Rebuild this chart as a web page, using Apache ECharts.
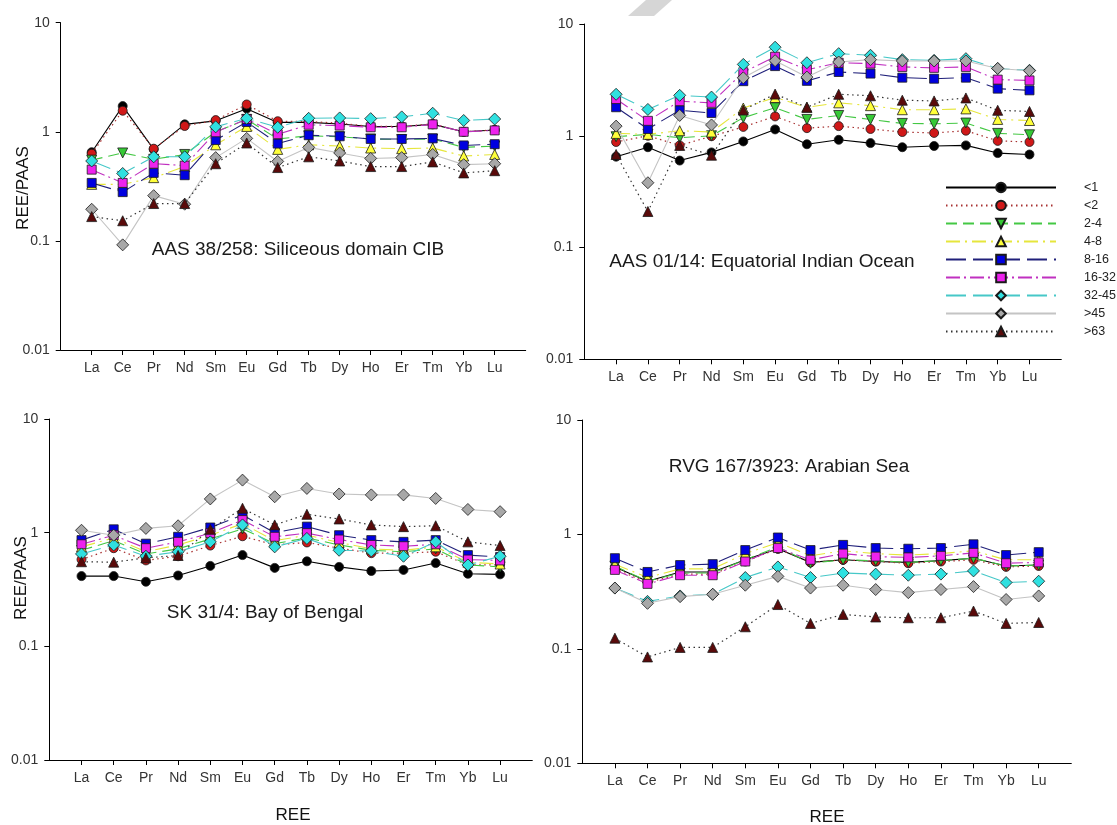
<!DOCTYPE html>
<html>
<head>
<meta charset="utf-8">
<script src="https://cdn.jsdelivr.net/npm/echarts@6/dist/echarts.min.js"></script>
<style>
  html, body { margin: 0; padding: 0; background: #fff; }
  #chart { width: 1117px; height: 825px; }
</style>
</head>
<body>
<div id="chart"></div>
<script>
// Rare earth elements along the x axis
const elements = ['La', 'Ce', 'Pr', 'Nd', 'Sm', 'Eu', 'Gd', 'Tb', 'Dy', 'Ho', 'Er', 'Tm', 'Yb', 'Lu'];
// Grain-size classes (legend)
const sizeClasses = ['<1', '<2', '2-4', '4-8', '8-16', '16-32', '32-45', '>45', '>63'];
// Log-axis decades
const yTickValues = [0.01, 0.1, 1, 10];
const yTickLabels = ['0.01', '0.1', '1', '10'];

// AAS 38/258: Siliceous domain CIB
const cib_lt1   = [0.65, 1.72, 0.69, 1.17, 1.26, 1.63, 1.22, 1.22, 1.18, 1.12, 1.12, 1.17, 1.00, 1.04];
const cib_lt2   = [0.63, 1.56, 0.70, 1.13, 1.28, 1.78, 1.25, 1.24, 1.20, 1.12, 1.12, 1.18, 1.00, 1.04];
const cib_2_4   = [0.55, 0.64, 0.56, 0.62, 1.00, 1.30, 0.86, 0.92, 0.90, 0.86, 0.85, 0.86, 0.72, 0.74];
const cib_4_8   = [0.33, 0.33, 0.38, 0.48, 0.76, 1.12, 0.69, 0.76, 0.74, 0.71, 0.70, 0.71, 0.60, 0.62];
const cib_8_16  = [0.34, 0.28, 0.42, 0.40, 0.84, 1.23, 0.78, 0.93, 0.91, 0.86, 0.86, 0.87, 0.75, 0.77];
const cib_16_32 = [0.45, 0.34, 0.51, 0.49, 0.99, 1.31, 0.95, 1.16, 1.14, 1.10, 1.10, 1.17, 1.00, 1.03];
const cib_32_45 = [0.54, 0.415, 0.59, 0.59, 1.11, 1.33, 1.10, 1.33, 1.34, 1.32, 1.37, 1.48, 1.27, 1.31];
const cib_gt45  = [0.195, 0.092, 0.26, 0.217, 0.58, 0.87, 0.535, 0.72, 0.64, 0.57, 0.58, 0.62, 0.50, 0.51];
const cib_gt63  = [0.167, 0.153, 0.22, 0.22, 0.51, 0.79, 0.47, 0.59, 0.54, 0.48, 0.48, 0.53, 0.42, 0.44];

// AAS 01/14: Equatorial Indian Ocean
const eio_lt1   = [0.65, 0.79, 0.60, 0.71, 0.89, 1.14, 0.84, 0.92, 0.86, 0.79, 0.81, 0.82, 0.70, 0.68];
const eio_lt2   = [0.88, 1.00, 0.82, 0.99, 1.20, 1.49, 1.17, 1.22, 1.15, 1.08, 1.06, 1.11, 0.90, 0.88];
const eio_2_4   = [0.98, 1.03, 0.96, 1.00, 1.45, 1.78, 1.40, 1.52, 1.40, 1.29, 1.28, 1.30, 1.05, 1.02];
const eio_4_8   = [1.05, 1.03, 1.11, 1.08, 1.77, 2.20, 1.80, 1.97, 1.86, 1.71, 1.71, 1.74, 1.40, 1.37];
const eio_8_16  = [1.80, 1.15, 1.69, 1.60, 3.08, 4.20, 3.10, 3.72, 3.60, 3.31, 3.24, 3.31, 2.64, 2.55];
const eio_16_32 = [2.13, 1.36, 2.04, 1.97, 3.70, 5.10, 3.90, 4.50, 4.42, 4.13, 4.05, 4.13, 3.18, 3.13];
const eio_32_45 = [2.35, 1.72, 2.30, 2.22, 4.35, 6.20, 4.50, 5.43, 5.25, 4.80, 4.73, 4.90, 4.00, 3.85];
const eio_gt45  = [1.22, 0.38, 1.52, 1.25, 3.30, 4.70, 3.35, 4.57, 4.80, 4.67, 4.67, 4.67, 4.00, 3.82];
const eio_gt63  = [0.68, 0.21, 0.82, 0.67, 1.70, 2.36, 1.80, 2.35, 2.28, 2.08, 2.05, 2.18, 1.69, 1.65];

// SK 31/4: Bay of Bengal
const bob_lt1   = [0.415, 0.415, 0.37, 0.42, 0.51, 0.635, 0.49, 0.56, 0.50, 0.46, 0.47, 0.54, 0.435, 0.43];
const bob_lt2   = [0.58, 0.73, 0.57, 0.62, 0.77, 0.93, 0.78, 0.82, 0.73, 0.66, 0.66, 0.68, 0.52, 0.52];
const bob_2_4   = [0.70, 0.85, 0.65, 0.72, 0.88, 1.08, 0.80, 0.90, 0.78, 0.70, 0.68, 0.72, 0.52, 0.50];
const bob_4_8   = [0.75, 0.90, 0.68, 0.78, 0.95, 1.20, 0.85, 0.95, 0.82, 0.72, 0.70, 0.75, 0.55, 0.53];
const bob_8_16  = [0.86, 1.07, 0.80, 0.92, 1.11, 1.43, 1.00, 1.13, 0.95, 0.86, 0.83, 0.86, 0.635, 0.61];
const bob_16_32 = [0.79, 0.95, 0.73, 0.83, 0.99, 1.29, 0.92, 0.99, 0.87, 0.78, 0.76, 0.79, 0.58, 0.57];
const bob_32_45 = [0.65, 0.78, 0.62, 0.68, 0.83, 1.17, 0.75, 0.89, 0.70, 0.69, 0.62, 0.83, 0.52, 0.62];
const bob_gt45  = [1.05, 0.95, 1.09, 1.15, 1.98, 2.90, 2.07, 2.45, 2.19, 2.15, 2.15, 2.00, 1.60, 1.53];
const bob_gt63  = [0.555, 0.55, 0.60, 0.63, 1.07, 1.64, 1.17, 1.45, 1.32, 1.17, 1.13, 1.15, 0.83, 0.77];

// RVG 167/3923: Arabian Sea
const ars_lt1   = [0.52, 0.39, 0.47, 0.47, 0.60, 0.75, 0.57, 0.60, 0.58, 0.57, 0.59, 0.62, 0.53, 0.54];
const ars_lt2   = [0.50, 0.38, 0.45, 0.45, 0.58, 0.75, 0.57, 0.60, 0.58, 0.56, 0.58, 0.60, 0.52, 0.53];
const ars_2_4   = [0.53, 0.39, 0.46, 0.46, 0.60, 0.78, 0.56, 0.60, 0.59, 0.57, 0.59, 0.62, 0.53, 0.54];
const ars_4_8   = [0.55, 0.42, 0.50, 0.50, 0.68, 0.85, 0.65, 0.72, 0.68, 0.66, 0.68, 0.72, 0.60, 0.60];
const ars_8_16  = [0.62, 0.47, 0.54, 0.55, 0.73, 0.94, 0.73, 0.81, 0.76, 0.75, 0.76, 0.82, 0.66, 0.70];
const ars_16_32 = [0.49, 0.37, 0.44, 0.44, 0.58, 0.76, 0.60, 0.68, 0.64, 0.63, 0.65, 0.69, 0.56, 0.57];
const ars_32_45 = [0.34, 0.26, 0.29, 0.30, 0.42, 0.52, 0.42, 0.46, 0.45, 0.44, 0.45, 0.48, 0.38, 0.39];
const ars_gt45  = [0.34, 0.25, 0.286, 0.30, 0.36, 0.43, 0.34, 0.36, 0.33, 0.31, 0.33, 0.35, 0.27, 0.29];
const ars_gt63  = [0.124, 0.085, 0.103, 0.103, 0.156, 0.244, 0.167, 0.20, 0.19, 0.187, 0.187, 0.214, 0.167, 0.17];

const panelSeries = [
  [cib_lt1, cib_lt2, cib_2_4, cib_4_8, cib_8_16, cib_16_32, cib_32_45, cib_gt45, cib_gt63],
  [eio_lt1, eio_lt2, eio_2_4, eio_4_8, eio_8_16, eio_16_32, eio_32_45, eio_gt45, eio_gt63],
  [bob_lt1, bob_lt2, bob_2_4, bob_4_8, bob_8_16, bob_16_32, bob_32_45, bob_gt45, bob_gt63],
  [ars_lt1, ars_lt2, ars_2_4, ars_4_8, ars_8_16, ars_16_32, ars_32_45, ars_gt45, ars_gt63]
];
const panelTitles = [
  'AAS 38/258: Siliceous domain CIB',
  'AAS 01/14: Equatorial Indian Ocean',
  'SK 31/4: Bay of Bengal',
  'RVG 167/3923: Arabian Sea'
];

// Plot frames: left, top, width, height, x extent in category units
const frames = [
  { left: 60.7,  top: 22.7, width: 465, height: 327.3, xMax: 15 },
  { left: 584.3, top: 24,   width: 477, height: 335.3, xMax: 15 },
  { left: 49.3,  top: 419,  width: 483, height: 341,   xMax: 15 },
  { left: 582.3, top: 420,  width: 489, height: 343.3, xMax: 15 }
];

// Marker and line look for each size class
const classLook = [
  { symbol: 'circle',   rotate: 0,   size: 9,  fill: '#000000', line: '#000000', dash: 'solid',        width: 1.1 },
  { symbol: 'circle',   rotate: 0,   size: 9,  fill: '#d01818', line: '#a83030', dash: [1.5, 3.5],     width: 1.2 },
  { symbol: 'triangle', rotate: 180, size: 10, fill: '#36c936', line: '#44c844', dash: [11, 6],        width: 1.1 },
  { symbol: 'triangle', rotate: 0,   size: 10, fill: '#ffff3a', line: '#e6e63c', dash: [14, 5, 2, 5],  width: 1.1 },
  { symbol: 'rect',     rotate: 0,   size: 9,  fill: '#0000e0', line: '#20207a', dash: [20, 7],        width: 1.1 },
  { symbol: 'rect',     rotate: 0,   size: 9,  fill: '#ee22ee', line: '#c030c0', dash: [14, 4, 2, 4],  width: 1.1 },
  { symbol: 'diamond',  rotate: 0,   size: 12, fill: '#30e0e0', line: '#46c8c8', dash: [20, 7],        width: 1.1 },
  { symbol: 'diamond',  rotate: 0,   size: 12, fill: '#a8a8a8', line: '#c4c4c4', dash: 'solid',        width: 1.1 },
  { symbol: 'triangle', rotate: 0,   size: 10, fill: '#5a0a0a', line: '#333333', dash: [1.5, 3.5],     width: 1.2 }
];

const FONT = '"Liberation Sans", Arial, Helvetica, sans-serif';
const tickPositions = elements.map((_, i) => i + 1);

const grids = frames.map(f => ({ left: f.left, top: f.top, width: f.width, height: f.height, outerBoundsMode: 'none', containLabel: false }));

const xAxes = frames.map((f, i) => ({
  type: 'value', gridIndex: i, min: 0, max: f.xMax,
  splitLine: { show: false },
  axisLine: { show: true, onZero: false, lineStyle: { color: '#000', width: 1 } },
  axisTick: { show: true, customValues: tickPositions, length: 5, lineStyle: { color: '#000' } },
  axisLabel: {
    customValues: tickPositions, margin: 11, fontSize: 14, color: '#333', fontFamily: FONT,
    formatter: v => elements[Math.round(v) - 1] || ''
  }
}));

const yAxes = frames.map((f, i) => ({
  type: 'log', logBase: 10, gridIndex: i, min: 0.01, max: 10,
  splitLine: { show: false },
  minorTick: { show: false },
  axisLine: { show: true, lineStyle: { color: '#000', width: 1 } },
  axisTick: { show: true, length: 5, lineStyle: { color: '#000' } },
  axisLabel: {
    margin: 11, fontSize: 14, color: '#333', fontFamily: FONT,
    formatter: v => {
      let best = 0;
      yTickValues.forEach((t, k) => { if (Math.abs(Math.log10(v) - Math.log10(t)) < Math.abs(Math.log10(v) - Math.log10(yTickValues[best]))) best = k; });
      return yTickLabels[best];
    }
  }
}));

const series = [];
panelSeries.forEach((rows, p) => {
  rows.forEach((vals, c) => {
    const look = classLook[c];
    series.push({
      type: 'line',
      name: sizeClasses[c],
      xAxisIndex: p, yAxisIndex: p,
      data: vals.map((v, k) => [k + 1, v]),
      symbol: look.symbol,
      symbolRotate: look.rotate,
      symbolSize: look.size,
      showAllSymbol: true,
      lineStyle: { color: look.line, type: look.dash, width: look.width },
      itemStyle: { color: look.fill, borderColor: '#1a1a1a', borderWidth: 0.8 },
      emphasis: { disabled: true },
      z: 2 + c
    });
  });
});

const textItems = [];
// Faint grey mark at the top edge of the sheet
textItems.push({
  type: 'polygon', z: 0, silent: true,
  shape: { points: [[646, 0], [672, 0], [654, 16], [628, 16]] },
  style: { fill: '#d6d6d6' }
});
const titlePos = [[298, 250], [762, 262], [265, 613], [789, 467]];
panelTitles.forEach((t, i) => {
  textItems.push({
    type: 'text', x: titlePos[i][0], y: titlePos[i][1], z: 50,
    style: { text: t, font: '19px ' + FONT, fill: '#1a1a1a', align: 'center', verticalAlign: 'middle' }
  });
});
// Axis names
[[23, 188], [21, 578]].forEach(([x, y]) => {
  textItems.push({
    type: 'text', x: x, y: y, rotation: Math.PI / 2, z: 50,
    style: { text: 'REE/PAAS', font: '17px ' + FONT, fill: '#111', align: 'center', verticalAlign: 'middle' }
  });
});
[[293, 815], [827, 817]].forEach(([x, y]) => {
  textItems.push({
    type: 'text', x: x, y: y, z: 50,
    style: { text: 'REE', font: '17px ' + FONT, fill: '#111', align: 'center', verticalAlign: 'middle' }
  });
});

const chart = echarts.init(document.getElementById('chart'), null, { renderer: 'canvas' });
chart.setOption({
  animation: false,
  backgroundColor: '#ffffff',
  grid: grids,
  xAxis: xAxes,
  yAxis: yAxes,
  legend: {
    data: sizeClasses,
    orient: 'vertical',
    left: 940, top: 176,
    itemWidth: 110, itemHeight: 12, itemGap: 5,
    selectedMode: false,
    textStyle: { fontSize: 12.5, color: '#222', fontFamily: FONT, padding: [0, 0, 0, 23] }
  },
  graphic: textItems,
  series: series
});
</script>
</body>
</html>
